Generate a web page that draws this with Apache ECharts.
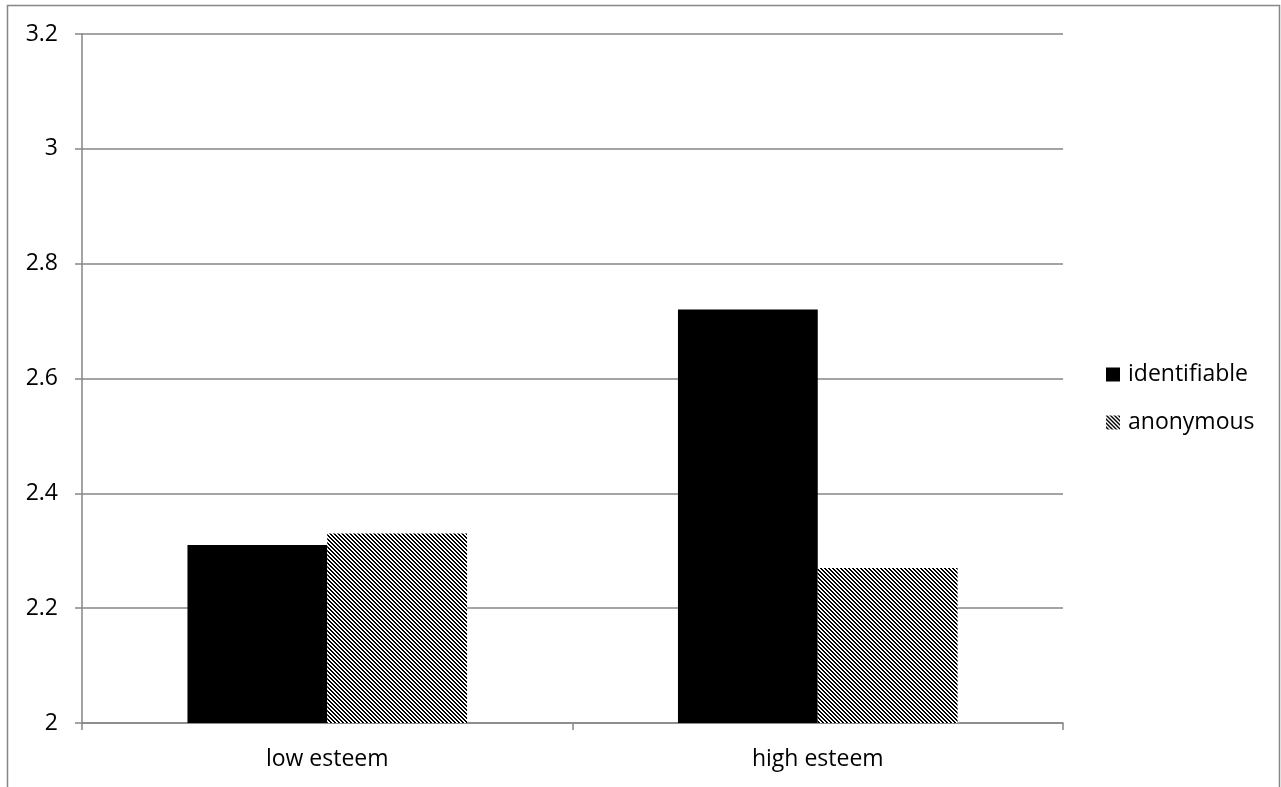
<!DOCTYPE html>
<html><head><meta charset="utf-8">
<script src="https://cdn.jsdelivr.net/npm/echarts@6/dist/echarts.min.js"></script>
<style>html,body{margin:0;padding:0;background:#fff}#c{width:1281px;height:787px}</style>
</head><body><div id="c"></div>
<script>
const categories = ['low esteem', 'high esteem'];
const identifiable = [2.31, 2.72];
const anonymous = [2.33, 2.27];
const seriesNames = ['identifiable', 'anonymous'];

function hatch() {
  const n = 4;
  const cv = document.createElement('canvas');
  cv.width = n; cv.height = n;
  const ctx = cv.getContext('2d');
  ctx.fillStyle = '#fff'; ctx.fillRect(0, 0, n, n);
  ctx.fillStyle = '#000';
  for (let y = 0; y < n; y++) for (let x = 0; x < n; x++) {
    if (((x - y) % n + n) % n < 2) ctx.fillRect(x, y, 1, 1);
  }
  return cv;
}
const pat = { image: hatch(), repeat: 'repeat' };
const font = 'Open Sans';
const fs = 23;
const gray = '#868686';

const chart = echarts.init(document.getElementById('c'), null, { renderer: 'canvas' });
chart.setOption({
  animation: false,
  backgroundColor: '#fff',
  graphic: [{ type: 'rect', shape: { x: 7.5, y: 5.5, width: 1272, height: 800 }, style: { fill: 'none', stroke: gray, lineWidth: 1.5 }, silent: true }],
  grid: { left: 82, right: 218, top: 34, bottom: 64 },
  legend: {
    orient: 'vertical', left: 1106, top: 363, itemGap: 25, padding: 0,
    itemWidth: 14, itemHeight: 14, icon: 'rect',
    textStyle: { fontFamily: font, fontSize: fs, color: '#000', padding: [0, 0, 0, 3] },
    data: [{ name: seriesNames[0] }, { name: seriesNames[1], itemStyle: { color: pat } }]
  },
  xAxis: {
    type: 'category', data: categories,
    axisLine: { lineStyle: { color: gray, width: 1.5 } },
    axisTick: { show: true, length: 7, alignWithLabel: false, lineStyle: { color: gray, width: 1.5 } },
    axisLabel: { fontFamily: font, fontSize: fs, color: '#000', margin: 25 }
  },
  yAxis: {
    type: 'value', min: 2, max: 3.2, interval: 0.2,
    axisLine: { show: true, lineStyle: { color: gray, width: 1.5 } },
    axisTick: { show: true, length: 7, lineStyle: { color: gray, width: 1.5 } },
    splitLine: { lineStyle: { color: gray, width: 1.5 } },
    axisLabel: { fontFamily: font, fontSize: fs, color: '#000', margin: 24,
      formatter: v => String(Math.round(v * 10) / 10) }
  },
  series: [
    { name: seriesNames[0], type: 'bar', data: identifiable, barGap: '0%', barCategoryGap: '43%',
      itemStyle: { color: '#000' } },
    { name: seriesNames[1], type: 'bar', data: anonymous, barGap: '0%', barCategoryGap: '43%',
      itemStyle: { color: pat } }
  ]
});
</script></body></html>
